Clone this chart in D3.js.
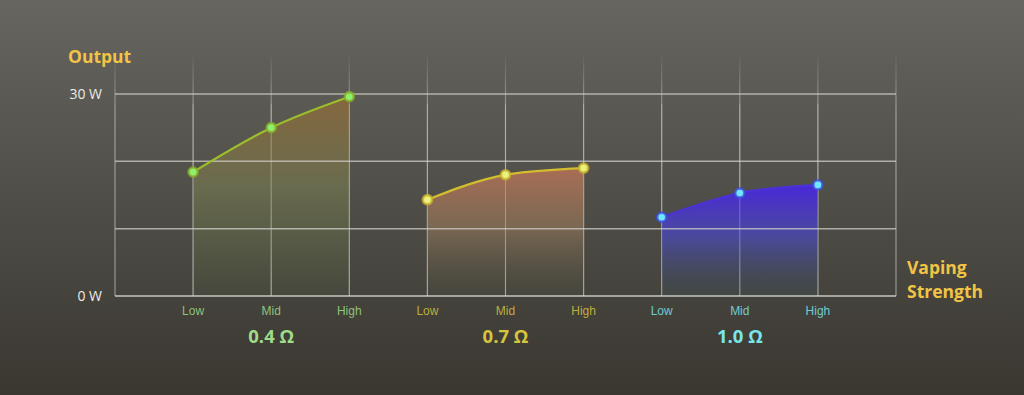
<!DOCTYPE html>
<html>
<head>
<meta charset="utf-8">
<script src="https://cdn.jsdelivr.net/npm/d3@7"></script>
<style>
  html, body { margin: 0; padding: 0; background: #3b3932; }
  svg { display: block; }
</style>
</head>
<body>
<svg id="chart" width="1024" height="395"></svg>
<script>
const levels = ["Low", "Mid", "High"];
const coils = ["0.4 Ω", "0.7 Ω", "1.0 Ω"];
const output04 = [18.4, 25.0, 29.6];
const output07 = [14.3, 18.0, 19.0];
const output10 = [11.7, 15.3, 16.5];
const yTicks = [0, 10, 20, 30];
const yTickLabels = { 0: "0 W", 30: "30 W" };

const groups = [
  { name: coils[0], values: output04, line: "#9cbd2c", dot: "#8ef06a", dotStroke: "#8aa82a", label: "#9fdc8a",
    stops: [["0%", "#8c6a3a", 0.85], ["45%", "#727450", 0.75], ["100%", "#5b6c42", 0.1]] },
  { name: coils[1], values: output07, line: "#d2bd2e", dot: "#e9f27c", dotStroke: "#c8b02a", label: "#d6c43e",
    stops: [["0%", "#ae6f55", 0.95], ["45%", "#8c7258", 0.75], ["100%", "#5a5a45", 0.1]] },
  { name: coils[2], values: output10, line: "#4b32d6", dot: "#6fe6ff", dotStroke: "#3d4ad8", label: "#7ae6ec",
    stops: [["0%", "#4828d8", 1], ["45%", "#4a48b0", 0.85], ["100%", "#3d5050", 0.3]] }
];

const width = 1024, height = 395;
const plotLeft = 115, plotRight = 896, plotTop = 94, plotBottom = 296;

const svg = d3.select("#chart");
const defs = svg.append("defs");

const bg = defs.append("linearGradient").attr("id", "bg")
  .attr("x1", 0).attr("y1", 0).attr("x2", 0).attr("y2", 1);
bg.append("stop").attr("offset", "0%").attr("stop-color", "#66655f");
bg.append("stop").attr("offset", "100%").attr("stop-color", "#393730");
svg.append("rect").attr("width", width).attr("height", height).attr("fill", "url(#bg)");

const vfade = defs.append("linearGradient").attr("id", "vfade")
  .attr("gradientUnits", "userSpaceOnUse")
  .attr("x1", 0).attr("y1", 52).attr("x2", 0).attr("y2", 110);
vfade.append("stop").attr("offset", "0%").attr("stop-color", "#d8d8d4").attr("stop-opacity", 0);
vfade.append("stop").attr("offset", "100%").attr("stop-color", "#d8d8d4").attr("stop-opacity", 0.55);

// 11 slots: left edge, 9 points, right edge
const slots = d3.range(11);
const x = d3.scalePoint().domain(slots).range([plotLeft, plotRight]);
const y = d3.scaleLinear().domain([0, 30]).range([plotBottom, plotTop]);

// vertical grid
svg.append("g").selectAll("line").data(slots).join("line")
  .attr("x1", d => x(d)).attr("x2", d => x(d))
  .attr("y1", 52).attr("y2", plotBottom)
  .attr("stroke", "url(#vfade)").attr("stroke-width", 1.2);

// areas + lines
const area = d3.area().x(d => d.x).y0(y(0)).y1(d => y(d.v)).curve(d3.curveMonotoneX);
const line = d3.line().x(d => d.x).y(d => y(d.v)).curve(d3.curveMonotoneX);

groups.forEach((g, gi) => {
  const grad = defs.append("linearGradient").attr("id", "area" + gi)
    .attr("x1", 0).attr("y1", 0).attr("x2", 0).attr("y2", 1);
  g.stops.forEach(s => grad.append("stop").attr("offset", s[0])
    .attr("stop-color", s[1]).attr("stop-opacity", s[2]));
  g.pts = g.values.map((v, i) => ({ x: x(1 + gi * 3 + i), v: v, level: levels[i] }));
});

groups.forEach((g, gi) => {
  svg.append("path").datum(g.pts).attr("d", area).attr("fill", `url(#area${gi})`);
});

// horizontal grid (over areas)
svg.append("g").selectAll("line").data(yTicks).join("line")
  .attr("x1", plotLeft).attr("x2", plotRight)
  .attr("y1", d => y(d)).attr("y2", d => y(d))
  .attr("stroke", d => d === 0 ? "#d6d6d2" : "#cfcfca")
  .attr("stroke-opacity", d => d === 0 ? 0.9 : 0.75)
  .attr("stroke-width", 1.5);

// vertical grid redrawn faintly over areas
svg.append("g").selectAll("line").data(slots.slice(1, 10)).join("line")
  .attr("x1", d => x(d)).attr("x2", d => x(d))
  .attr("y1", plotTop + 10).attr("y2", plotBottom)
  .attr("stroke", "#d8d8d4").attr("stroke-opacity", 0.3).attr("stroke-width", 1);

groups.forEach(g => {
  svg.append("path").datum(g.pts).attr("d", line)
    .attr("fill", "none").attr("stroke", g.line).attr("stroke-width", 2.2);
  svg.append("g").selectAll("circle").data(g.pts).join("circle")
    .attr("cx", d => d.x).attr("cy", d => y(d.v)).attr("r", 4.6)
    .attr("fill", g.dot).attr("stroke", g.dotStroke).attr("stroke-opacity", 0.75).attr("stroke-width", 2.6);
  svg.append("g").selectAll("text").data(g.pts).join("text")
    .attr("x", d => d.x).attr("y", 315)
    .attr("text-anchor", "middle")
    .attr("font-family", "'Liberation Sans Narrow', 'Liberation Sans', sans-serif")
    .attr("font-size", 12).attr("fill", g.label).attr("fill-opacity", 0.85)
    .text(d => d.level);
  svg.append("text")
    .attr("x", g.pts[1].x).attr("y", 343)
    .attr("text-anchor", "middle")
    .attr("font-family", "'Open Sans', 'Liberation Sans', sans-serif")
    .attr("font-weight", "bold").attr("font-size", 18.5)
    .attr("fill", g.label).text(g.name);
});

// y labels
svg.append("g").selectAll("text").data(yTicks.filter(d => yTickLabels[d])).join("text")
  .attr("x", 102).attr("y", d => y(d) + 5)
  .attr("text-anchor", "end")
  .attr("font-family", "'Open Sans', 'Liberation Sans', sans-serif")
  .attr("font-size", 14).attr("fill", "#ecebe6")
  .text(d => yTickLabels[d]);

// axis titles
svg.append("text").attr("x", 68).attr("y", 63)
  .attr("font-family", "'Open Sans', Lato, sans-serif").attr("font-weight", "bold")
  .attr("font-size", 17.5).attr("fill", "#f2c445").text("Output");
const vt = svg.append("text")
  .attr("font-family", "'Open Sans', Lato, sans-serif").attr("font-weight", "bold")
  .attr("font-size", 17.5).attr("fill", "#f2c445");
vt.append("tspan").attr("x", 907).attr("y", 274).text("Vaping");
vt.append("tspan").attr("x", 907).attr("y", 298).text("Strength");
</script>
</body>
</html>
